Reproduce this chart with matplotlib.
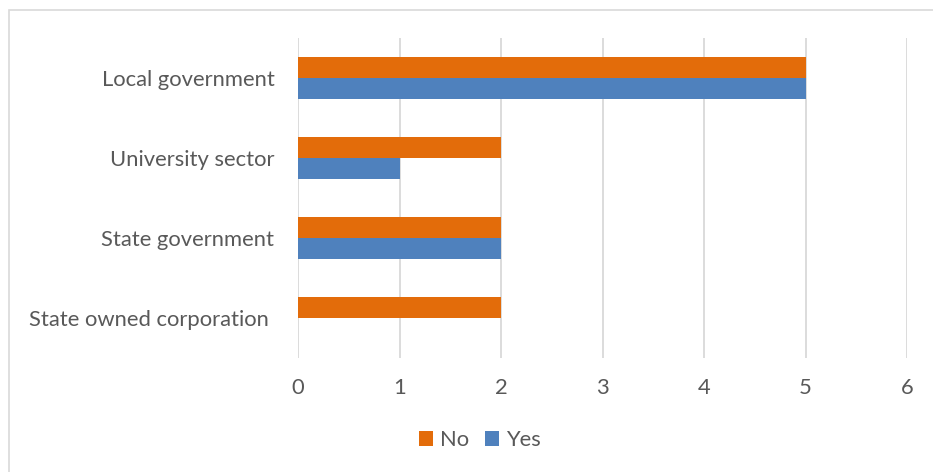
import matplotlib.pyplot as plt
import numpy as np
from matplotlib.patches import Rectangle
from matplotlib.transforms import ScaledTranslation

categories = ["State owned corporation", "State government", "University sector", "Local government"]
no_values = [2, 2, 2, 5]
yes_values = [0, 2, 1, 5]
ticks = [0, 1, 2, 3, 4, 5, 6]

plt.rcParams["font.family"] = ["Lato", "DejaVu Sans"]

W, H = 933, 472
fig = plt.figure(figsize=(W / 100, H / 100), dpi=100)
ax = fig.add_axes([298 / W, 1 - 358 / H, (907 - 298) / W, (358 - 38) / H])

y = np.arange(len(categories))
h = 0.2625
ax.barh(y + h / 2, no_values, height=h, color="#E36C0A", label="No", zorder=3)
ax.barh(y - h / 2, yes_values, height=h, color="#4F81BD", label="Yes", zorder=3)

ax.set_xlim(0, 6)
ax.set_ylim(-0.5, len(categories) - 0.5)
ax.set_xticks(ticks)
ax.set_yticks(y)
ax.set_yticklabels(categories)
ax.grid(axis="x", color="#d9d9d9", linewidth=1.3, zorder=0)
for s in ax.spines.values():
    s.set_visible(False)
ax.tick_params(length=0, colors="#595959", labelsize=15.8)
ax.tick_params(axis="x", pad=14.5)
ax.tick_params(axis="y", pad=17)

# the longest category label sits a little further left
lbl = ax.get_yticklabels()[0]
lbl.set_transform(lbl.get_transform() + ScaledTranslation(-6 / 100, 0, fig.dpi_scale_trans))

fig.legend(loc="center", bbox_to_anchor=(480 / W, 1 - 440 / H), ncol=2, frameon=False,
           fontsize=15.8, labelcolor="#595959", handlelength=0.64, handleheight=0.64,
           handletextpad=0.3, columnspacing=0.75)

# chart area border, running off the right and bottom edges
fig.add_artist(Rectangle((9 / W, -0.1), 1.2, 1.1 - 10 / H, transform=fig.transFigure,
                         fill=False, edgecolor="#d9d9d9", linewidth=1.2))

fig.savefig("out.png", dpi=100)
